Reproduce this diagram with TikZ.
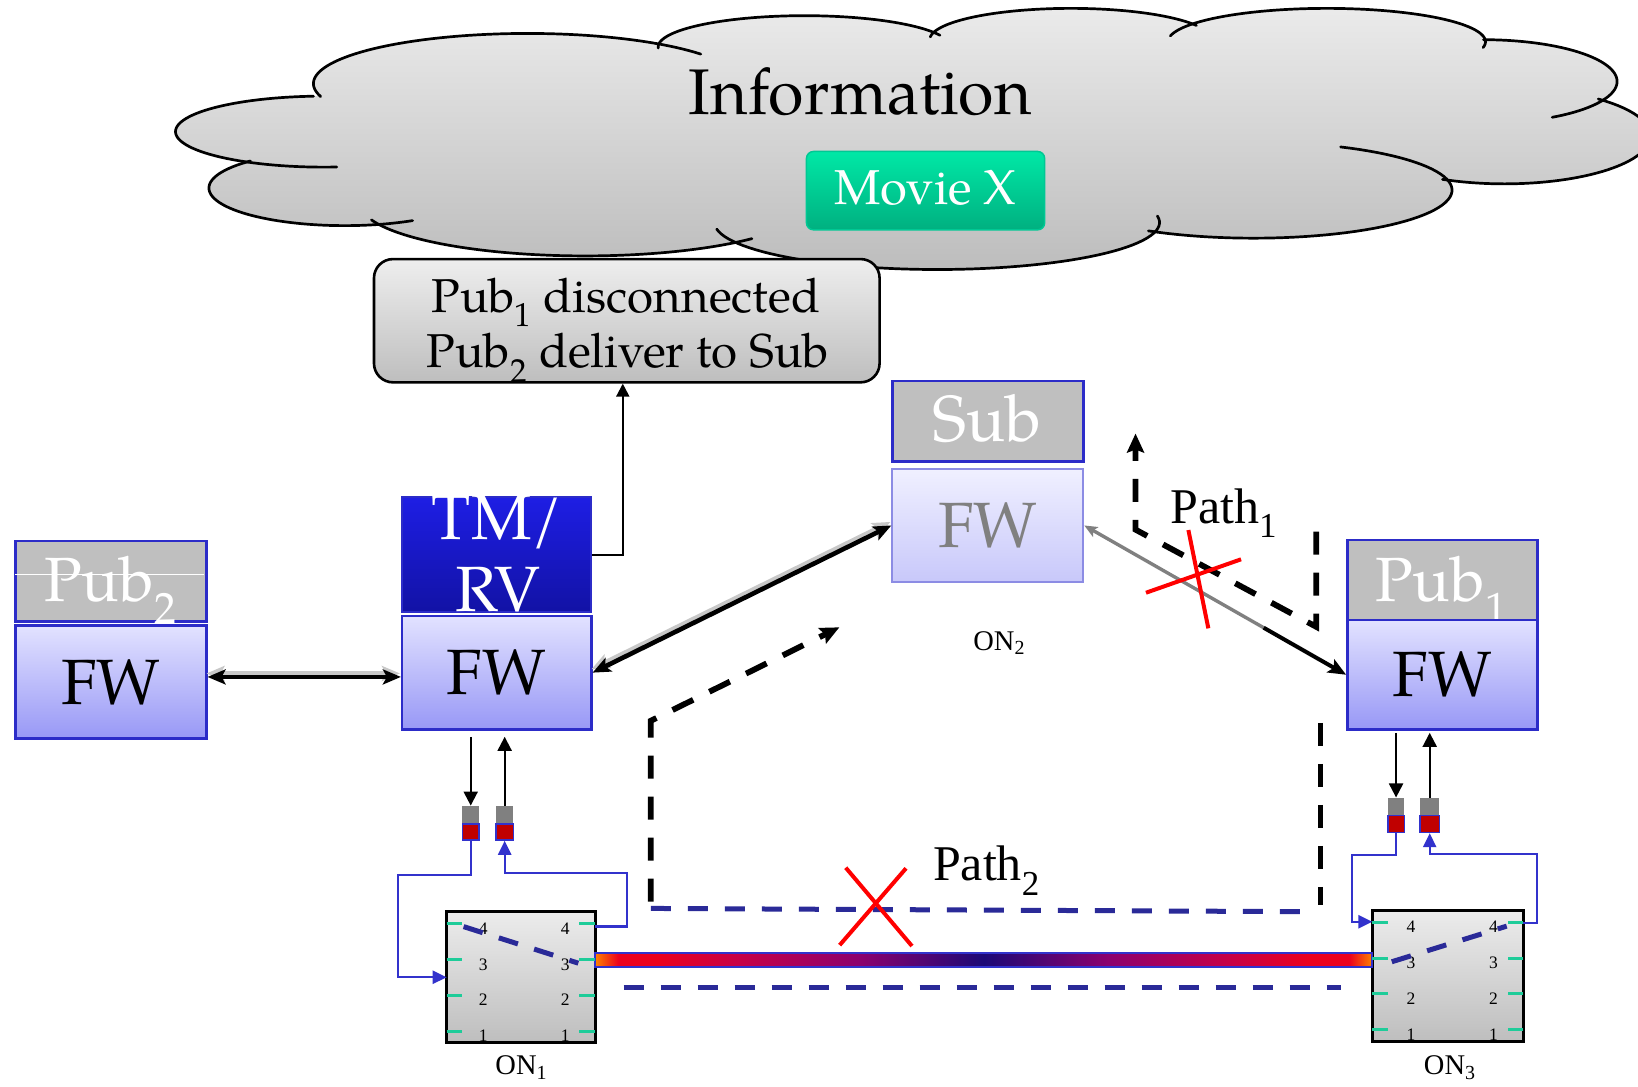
\documentclass[tikz,border=0pt]{standalone}
\usepackage{fontspec}
\setmainfont{texgyrepagella}[Extension=.otf, UprightFont=*-regular, BoldFont=*-bold, ItalicFont=*-italic, BoldItalicFont=*-bolditalic]
\newfontfamily\timesfont{Liberation Serif}
\usetikzlibrary{arrows.meta,calc}

\newcommand\pxs{1.0446pt}
\newcommand\fsz[1]{\fontsize{#1}{#1}\selectfont}

\definecolor{fwTop}{RGB}{226,226,255}
\definecolor{fwBot}{RGB}{152,152,246}
\definecolor{fwBorder}{RGB}{44,44,200}
\definecolor{tagGray}{RGB}{191,191,191}
\definecolor{tmTop}{RGB}{30,30,228}
\definecolor{tmBot}{RGB}{18,18,165}
\definecolor{subTop}{RGB}{240,240,255}
\definecolor{subBot}{RGB}{200,200,250}
\definecolor{subBorder}{RGB}{140,140,228}
\definecolor{fadedText}{RGB}{128,128,128}
\definecolor{cloudTop}{RGB}{236,236,236}
\definecolor{cloudBot}{RGB}{188,188,188}
\definecolor{msgTop}{RGB}{238,238,238}
\definecolor{msgBot}{RGB}{190,190,190}
\definecolor{swTop}{RGB}{236,236,236}
\definecolor{swBot}{RGB}{190,190,190}
\definecolor{movieTop}{RGB}{0,232,166}
\definecolor{movieBot}{RGB}{0,176,128}
\definecolor{movieBorder}{RGB}{0,200,148}
\definecolor{portTeal}{RGB}{30,204,153}
\definecolor{linkBlue}{RGB}{50,50,204}
\definecolor{pathNavy}{RGB}{42,42,152}
\definecolor{connRed}{RGB}{192,0,0}
\definecolor{connGray}{RGB}{128,128,128}
\definecolor{shadowGray}{RGB}{200,200,200}
\definecolor{halfGray}{RGB}{128,128,128}
\definecolor{fiberOrange}{RGB}{255,130,0}
\definecolor{fiberRed}{RGB}{235,0,30}
\definecolor{fiberCrimson}{RGB}{200,0,70}
\definecolor{fiberPurple}{RGB}{140,0,110}
\definecolor{fiberCore}{RGB}{28,8,118}

% colour runs left to right over the middle 50bp, which TikZ fits to the path
\pgfdeclarehorizontalshading{fibershade}{100bp}{color(0bp)=(fiberOrange); color(25bp)=(fiberOrange); color(26.5bp)=(fiberRed); color(29bp)=(fiberRed); color(34bp)=(fiberCrimson); color(42bp)=(fiberPurple); color(50bp)=(fiberCore); color(58bp)=(fiberPurple); color(66bp)=(fiberCrimson); color(71bp)=(fiberRed); color(73.5bp)=(fiberRed); color(75bp)=(fiberOrange); color(100bp)=(fiberOrange)}

\begin{document}
\begin{tikzpicture}[x=1.0446pt,y=-1.0446pt,
  wh/.style 2 args={minimum width=#1*\pxs, minimum height=#2*\pxs},
  box/.style={rectangle, inner sep=0pt},
  fw/.style={box, draw=fwBorder, line width=2.6pt, top color=fwTop, bottom color=fwBot, font=\fsz{64}},
  tag/.style={box, draw=fwBorder, line width=2.6pt, fill=tagGray},
  whitetxt/.style={text=white, inner sep=0pt},
  cloudline/.style={line width=2.7pt, line cap=round},
  onbox/.style={box, outer sep=0pt, draw=black, line width=3pt, top color=swTop, bottom color=swBot},
  port/.style={portTeal, line width=3pt},
  portnum/.style={font=\timesfont\fsz{17.5}, inner sep=0pt},
  conngray/.style={box, fill=connGray},
  connred/.style={box, fill=connRed, draw=linkBlue, line width=1.6pt},
  blueln/.style={linkBlue, line width=2.3pt, -{Triangle[length=14pt,width=13pt]}},
  smallarr/.style={black, line width=2pt, -{Triangle[length=14pt,width=14pt]}},
  dbl/.style={line width=4.6pt, {Stealth[length=18pt,width=15pt,inset=4pt]}-{Stealth[length=18pt,width=15pt,inset=4pt]}},
  dblshadow/.style={dbl, shadowGray, transform canvas={xshift=-1pt,yshift=3.5pt}},
  pathdash/.style={black, line width=5.8pt, dash pattern=on 23pt off 18pt},
  navydash/.style={pathNavy, line width=5pt, dash pattern=on 20pt off 17pt},
  redx/.style={red, line width=4pt},
  pathlbl/.style={font=\timesfont\fsz{50}, inner sep=0pt, anchor=base west},
  onlbl/.style={font=\timesfont\fsz{28.5}, inner sep=0pt, anchor=base}
]
\useasboundingbox (0,0) rectangle (1568,1040);

% ---------- cloud ----------
\begin{scope}
  \clip (505,80) ellipse [x radius=205*\pxs, y radius=48*\pxs]
        (770,45) ellipse [x radius=140*\pxs, y radius=30*\pxs]
        (1025,38) ellipse [x radius=135*\pxs, y radius=30*\pxs]
        (1270,40) ellipse [x radius=152*\pxs, y radius=32*\pxs]
        (1420,78) ellipse [x radius=128*\pxs, y radius=40*\pxs]
        (1440,130) ellipse [x radius=140*\pxs, y radius=46*\pxs]
        (1200,182) ellipse [x radius=190*\pxs, y radius=46*\pxs]
        (897,213) ellipse [x radius=213*\pxs, y radius=45*\pxs]
        (560,195) ellipse [x radius=215*\pxs, y radius=50*\pxs]
        (330,180) ellipse [x radius=130*\pxs, y radius=36*\pxs]
        (310,126) ellipse [x radius=142*\pxs, y radius=34*\pxs]
        (820,130) ellipse [x radius=500*\pxs, y radius=90*\pxs]
        (1100,80) ellipse [x radius=150*\pxs, y radius=40*\pxs]
        (1300,90) ellipse [x radius=120*\pxs, y radius=40*\pxs];
  \shade[top color=cloudTop, bottom color=cloudBot] (150,0) rectangle (1568,262);
\end{scope}
\foreach \cx/\cy/\rx/\ry/\ta/\tb in {
  505/80/205/48/165/324, 770/45/140/30/178/338, 1025/38/135/30/185/333,
  1270/40/152/32/190/370, 1420/78/128/40/270/419, 1440/130/140/46/-50/115,
  1200/182/190/46/-64/122, 897/213/213/45/-8/172, 560/195/215/50/42/162,
  330/180/130/36/60/226, 310/126/142/34/85/266}
  \draw[cloudline] plot[domain=\ta:\tb, samples=60] ({\cx+\rx*cos(\x)},{\cy+\ry*sin(\x)});

\node[anchor=base, font=\fsz{64.5}, inner sep=0pt] (info) at (823.5,110) {Information};
\node[box, draw=movieBorder, line width=1.5pt, rounded corners=7pt, top color=movieTop, bottom color=movieBot, wh={228}{75}] (movie) at (886,182.5) {};
\node[anchor=base, text=white, font=\fsz{49}, inner sep=0pt] (movietxt) at (886,196) {Movie X};

% ---------- status box ----------
\node[box, draw=black, line width=2.6pt, rounded corners=19pt, top color=msgTop, bottom color=msgBot, wh={484}{118}] (msg) at (600,307) {};
\node[anchor=base, font=\fsz{47.5}, inner sep=0pt] (msgA) at (599,299) {Pub\textsubscript{1} disconnected};
\node[anchor=base, font=\fsz{47.5}, inner sep=0pt] (msgB) at (601,352) {Pub\textsubscript{2} deliver to Sub};

% ---------- Pub2 ----------
\node[tag, wh={182.5}{77}] (pub2tag) at (106.2,556.5) {};
\node[whitetxt, anchor=base, font=\fsz{62.5}] (pub2txt) at (105.7,576) {Pub\textsubscript{2}};
\draw[white, line width=0.8pt] ($(pub2tag.west)+(1,-6.7)$) -- ($(pub2tag.east)+(-3,-6.7)$);
\node[fw, wh={182.5}{108}] (pub2fw) at (106.2,653) {FW};

% ---------- TM/RV ----------
\node[box, draw=fwBorder, line width=2.2pt, top color=tmTop, bottom color=tmBot, wh={181}{109.6}] (tmrv) at (475.5,530.8) {};
\node[whitetxt, anchor=base, font=\fsz{64}] (tmtxtA) at (476,516.3) {TM/};
\node[whitetxt, anchor=base, font=\fsz{64}] (tmtxtB) at (477,585.6) {RV};
\node[fw, wh={181}{108.3}] (tmfw) at (475.5,643.9) {FW};

% ---------- Sub ----------
\node[tag, wh={182.8}{77.3}] (subtag) at (945.6,403.4) {};
\node[whitetxt, anchor=base, font=\fsz{65}] (subtxt) at (944.9,423) {Sub};
\node[box, draw=subBorder, line width=2pt, top color=subTop, bottom color=subBot, text=fadedText, font=\fsz{64}, wh={182.8}{107.9}] (subfw) at (945.6,503) {FW};
\node[onlbl] (on2lbl) at (956.5,622.3) {ON\textsubscript{2}};

% ---------- Pub1 ----------
\node[tag, wh={181.9}{76.5}] (pub1tag) at (1380.8,555.3) {};
\node[whitetxt, anchor=base, font=\fsz{62.5}] (pub1txt) at (1379.7,576) {Pub\textsubscript{1}};
\node[fw, wh={181.9}{104.7}] (pub1fw) at (1380.8,645.9) {FW};

% ---------- optical switches and fibre ----------
\node[onbox, wh={142}{125.4}] (on1) at (498.6,935.5) {};
\node[onbox, wh={144.6}{126.1}] (on3) at (1386,934.2) {};
\shadedraw[shading=fibershade, draw=linkBlue, line width=2pt] ($(on1.east)+(0,-22.9)$) rectangle ($(on3.west)+(0,-8.8)$);

\foreach \sw/\lx/\rx in {on1/35/28.4, on3/37.1/28.7}{
  \foreach \dy/\lab in {11.5/4, 46/3, 80/2, 114.5/1}{
    \draw[port] ($(\sw.north west)+(0,\dy)$) -- ++(15,0);
    \draw[port] ($(\sw.north east)+(0,\dy)$) -- ++(-15,0);
    \node[portnum] (\sw L\lab) at ($(\sw.north west)+(\lx,\dy+4.5)$) {\lab};
    \node[portnum] (\sw R\lab) at ($(\sw.north east)+(-\rx,\dy+4.5)$) {\lab};
  }
}
\draw[navydash] ($(on1.north west)+(16.2,14.2)$) -- ($(on1.north west)+(126,49.2)$);
\draw[navydash] ($(on3.north west)+(18.6,49.5)$) -- ($(on3.north west)+(128.6,15.4)$);

\node[onlbl] (on1lbl) at (499,1029) {ON\textsubscript{1}};
\node[onlbl] (on3lbl) at (1387.8,1029) {ON\textsubscript{3}};

% ---------- line cards ----------
\node[conngray, wh={16}{17.7}] (c1g) at (450.6,780.2) {};
\node[connred, wh={16}{15.1}] (c1r) at (450.6,796.5) {};
\node[conngray, wh={16.6}{17.7}] (c2g) at (483.1,780.2) {};
\node[connred, wh={16.6}{15.1}] (c2r) at (483.1,796.5) {};
\node[conngray, wh={15.9}{17.2}] (c3g) at (1336.4,772.2) {};
\node[connred, wh={15.9}{16}] (c3r) at (1336.4,788.8) {};
\node[conngray, wh={18.4}{17.2}] (c4g) at (1368.6,772.2) {};
\node[connred, wh={18.4}{16}] (c4r) at (1368.6,788.8) {};

\draw[smallarr] ($(tmfw.south -| c1g.north)+(0,6)$) -- (c1g.north);
\draw[smallarr] (c2g.north) -- ($(tmfw.south -| c2g.north)+(0,6)$);
\draw[smallarr] ($(pub1fw.south -| c3g.north)+(0,2)$) -- (c3g.north);
\draw[smallarr] (c4g.north) -- ($(pub1fw.south -| c4g.north)+(0,2)$);

\coordinate (j1) at (381.3,837.6);
\coordinate (j2) at (600,836);
\coordinate (on1p4) at ($(on1.north east)+(0,14.2)$);
\draw[blueln] (c1r.south) |- (j1) |- (on1.west);
\draw[blueln] (on1p4) -| (j2) -| (c2r.south);
\coordinate (j3) at (1294,818.5);
\coordinate (j4) at (1471,817.6);
\coordinate (on3p4w) at ($(on3.north west)+(0,11.2)$);
\coordinate (on3p4e) at ($(on3.north east)+(0,12.4)$);
\draw[blueln] (c3r.south) |- (j3) |- (on3p4w);
\draw[blueln] (on3p4e) -| (j4) -| (c4r.south);

% ---------- firmware links ----------
\coordinate (a1) at ($(pub2fw.east)+(0,-5)$);
\coordinate (a2) at (a1 -| tmfw.west);
\draw[dblshadow] (a1) -- (a2);
\draw[dbl] (a1) -- (a2);
\draw[dblshadow] (tmfw.east) -- (subfw.west);
\draw[dbl] (tmfw.east) -- (subfw.west);

\coordinate (brk) at ($(subfw.east)!0.685!(pub1fw.west)$);
\draw[halfGray, line width=3.4pt, -{Stealth[length=13pt,width=11pt,inset=3pt]}] (brk) -- (subfw.east);
\draw[black, line width=4pt, -{Stealth[length=18pt,width=15pt,inset=4pt]}] (brk) -- (pub1fw.west);

\draw[black, line width=2pt, -{Triangle[length=13pt,width=13pt]}] (tmrv.east) -| ([xshift=-4pt]msg.south);

% ---------- Path 1 ----------
\coordinate (p1a) at (1260,509);
\coordinate (p1b) at (1260,600);
\coordinate (p1c) at (1087,507);
\coordinate (p1d) at (1087,415);
\draw[pathdash, -{Stealth[length=19pt,width=17pt,inset=3pt]}] (p1a) -- (p1b) -- (p1c) -- (p1d);
\draw[redx] (1137.6,507.4) -- (1156.7,601.5);
\draw[redx] (1097,567.4) -- (1188,535.4);
\node[pathlbl] (path1lbl) at (1120,501) {Path\textsubscript{1}};

% ---------- Path 2 ----------
\coordinate (p2a) at (1264,692);
\coordinate (p2b) at (1264,866);
\draw[pathdash] (p2a) -- (p2b);
\coordinate (p2c) at (623,863);
\coordinate (p2d) at (623,690);
\coordinate (p2e) at (803.5,600.5);
\draw[pathdash, -{Stealth[length=19pt,width=17pt,inset=3pt]}] (p2c) -- (p2d) -- (p2e);
\coordinate (n1a) at (623,869.6);
\coordinate (n1b) at (1246.5,872.7);
\draw[navydash] (n1a) -- (n1b);
\coordinate (n2a) at (597,945.5);
\coordinate (n2b) at (1283.3,945.5);
\draw[navydash] (n2a) -- (n2b);
\draw[redx] (809.6,830.6) -- (873,905.6);
\draw[redx] (867.3,831.2) -- (803.8,904.7);
\node[pathlbl] (path2lbl) at (893,843) {Path\textsubscript{2}};

\end{tikzpicture}
\end{document}
